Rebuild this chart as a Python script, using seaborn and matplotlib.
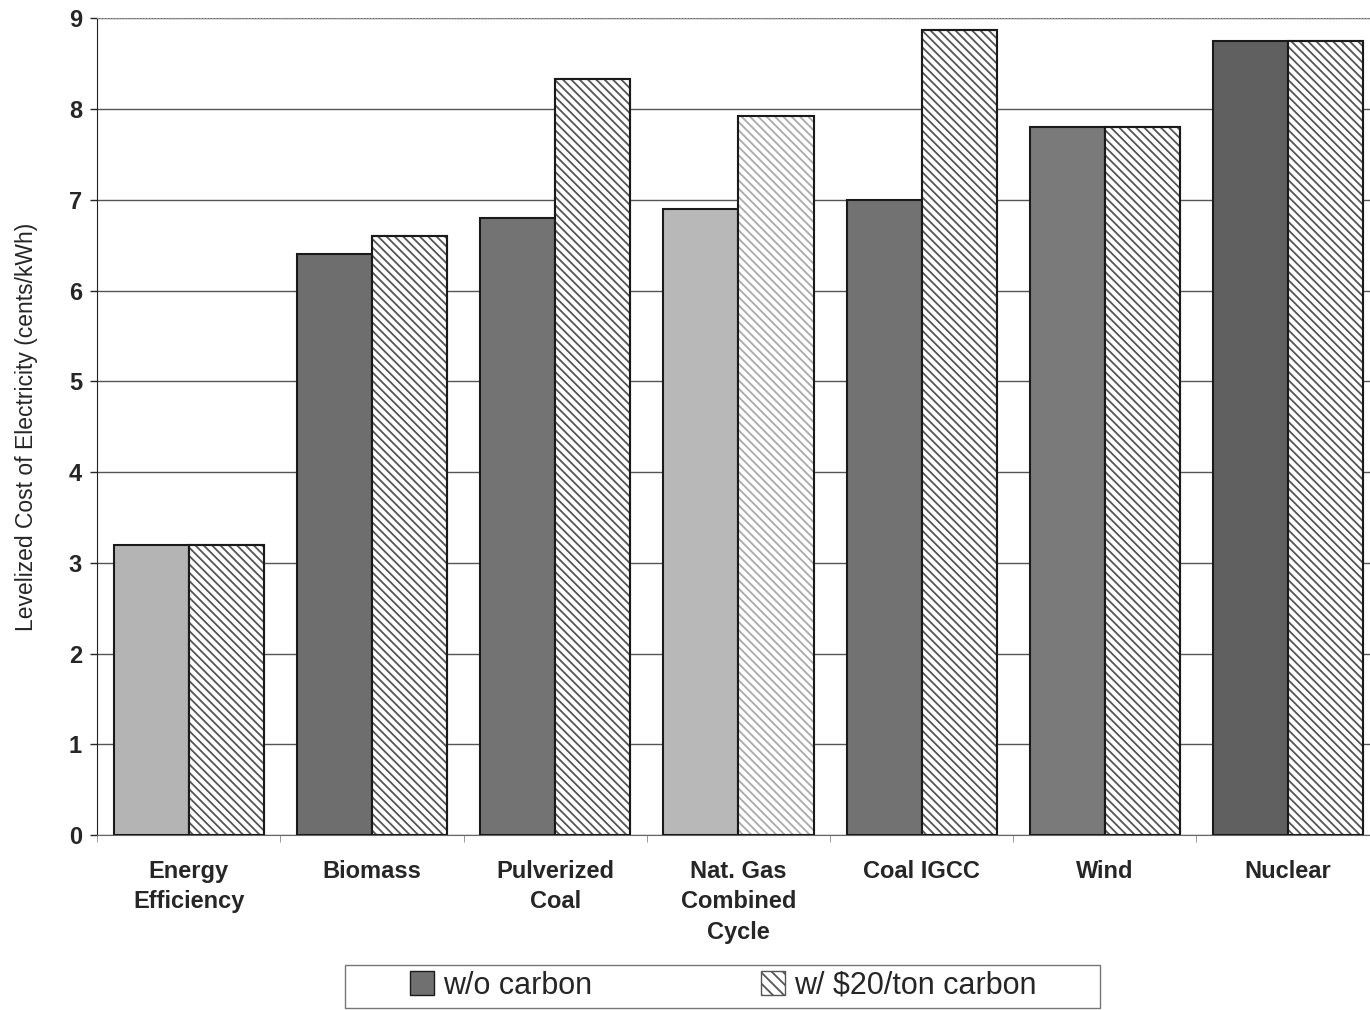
import pandas as pd
import seaborn as sns
from matplotlib import pyplot as plt

categories = ['Energy\nEfficiency', 'Biomass', 'Pulverized\nCoal', 'Nat. Gas\nCombined\nCycle',
              'Coal IGCC', 'Wind', 'Nuclear']
no_carbon = [3.2, 6.4, 6.8, 6.9, 7.0, 7.8, 8.75]
with_carbon = [3.2, 6.6, 8.33, 7.92, 8.87, 7.8, 8.75]
series = ['w/o carbon', 'w/ $20/ton carbon']

solid_colors = ['#b4b4b4', '#6e6e6e', '#737373', '#b8b8b8', '#727272', '#7a7a7a', '#606060']

df = pd.DataFrame({
    'Technology': categories * 2,
    'Cost': no_carbon + with_carbon,
    'Series': [series[0]] * len(categories) + [series[1]] * len(categories),
})

sns.set_style('white')
plt.rcParams['font.family'] = ['Liberation Sans', 'DejaVu Sans']
plt.rcParams['hatch.linewidth'] = 1.3

fig = plt.figure(figsize=(13.7, 10.1), dpi=100)
ax = fig.add_axes([0.071, 0.173, 0.936, 0.809])

sns.barplot(data=df, x='Technology', y='Cost', hue='Series', ax=ax,
            width=0.82, gap=0, saturation=1, legend=False,
            palette=['#707070', 'white'])

n = len(categories)
for i, bar in enumerate(ax.patches[:2 * n]):
    if i < n:
        bar.set_facecolor(solid_colors[i])
        bar.set_edgecolor('#1a1a1a')
        bar.set_linewidth(1.5)
    else:
        bar.set_facecolor('white')
        bar.set_hatch('\\\\\\\\')
        bar.set_edgecolor('#555555' if i - n != 3 else '#aaaaaa')
        bar.set_linewidth(1.5)
    bar.set_zorder(3)

# borders for hatched bars drawn in black on top
for bar in ax.patches[n:2 * n]:
    x, y = bar.get_xy()
    ax.add_patch(plt.Rectangle((x, y), bar.get_width(), bar.get_height(),
                               fill=False, edgecolor='#1a1a1a', linewidth=1.5, zorder=4))

ax.set_ylim(0, 9)
ax.set_xlim(-0.5, n - 0.5)
ax.set_yticks(range(0, 10))
ax.yaxis.grid(True, color='#555555', linewidth=1)
ax.set_axisbelow(True)
ax.set_xlabel('')
ax.set_ylabel('Levelized Cost of Electricity (cents/kWh)', fontsize=16.5, labelpad=22)
ax.tick_params(axis='y', labelsize=17, length=5, left=True, width=1, pad=6)
ax.tick_params(axis='x', labelsize=17, length=4, bottom=True, pad=18)
for lbl in ax.get_yticklabels() + ax.get_xticklabels():
    lbl.set_fontweight('bold')
for lbl in ax.get_xticklabels():
    lbl.set_linespacing(1.4)
ax.set_xticks([i - 0.5 for i in range(n + 1)], minor=True)
ax.tick_params(axis='x', which='minor', length=5, bottom=True, color='#888888')
ax.tick_params(axis='x', which='major', length=0)

ax.spines['left'].set_color('#222222')
ax.spines['bottom'].set_color('#666666')
ax.spines['top'].set_color('#999999')
ax.spines['top'].set_linestyle(':')
ax.spines['right'].set_visible(False)

handles = [plt.Rectangle((0, 0), 1, 1, facecolor='#707070', edgecolor='#1a1a1a'),
           plt.Rectangle((0, 0), 1, 1, facecolor='white', edgecolor='#555555', hatch='\\\\\\')]
fig.legend(handles, series, loc='center', bbox_to_anchor=(0.528, 0.024), ncol=2,
           fontsize=22, frameon=False,
           columnspacing=5.5, handlelength=0.8, handleheight=0.8, handletextpad=0.3,
           borderpad=0.25, borderaxespad=0)
# wide legend frame like the original
fig.patches.append(plt.Rectangle((0.252, 0.002), 0.551, 0.043, transform=fig.transFigure,
                                 fill=False, edgecolor='#777777', linewidth=1))

fig.savefig('out.png', dpi=100)
